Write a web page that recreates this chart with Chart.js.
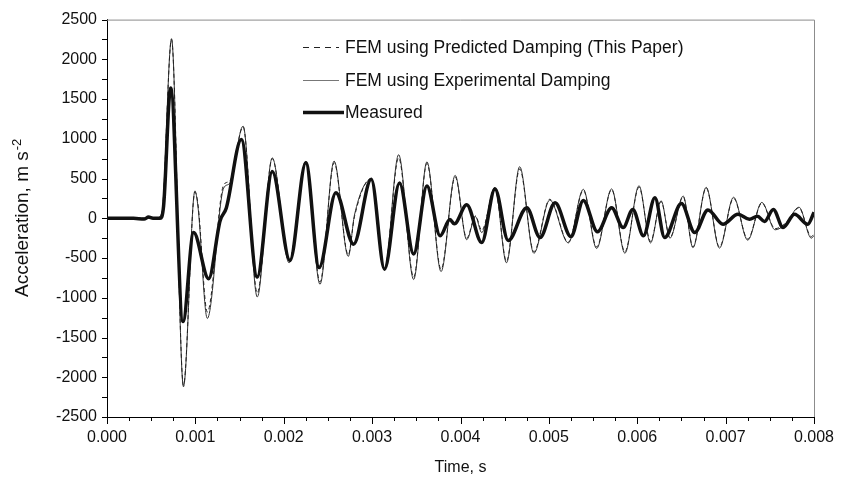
<!DOCTYPE html>
<html>
<head>
<meta charset="utf-8">
<script src="https://cdn.jsdelivr.net/npm/chart.js@4.4.0/dist/chart.umd.min.js"></script>
<style>
  html, body { margin: 0; padding: 0; background: #fff; }
  #wrap { width: 854px; height: 482px; }
</style>
</head>
<body>
<div id="wrap"><canvas id="accChart"></canvas></div>
<script>
// FEM time base, s
const timeFem = [0, 0.0003, 0.00055, 0.00062, 0.00073, 0.000865, 0.000995, 0.00103, 0.001135, 0.00132,
  0.00139, 0.00154, 0.0017, 0.00187, 0.00206, 0.00225, 0.00241, 0.00257, 0.00273, 0.0028,
  0.00299, 0.00314, 0.0033, 0.00347, 0.00362, 0.00378, 0.00394, 0.00407, 0.00417, 0.00424,
  0.00439, 0.00452, 0.00467, 0.00483, 0.00501, 0.00522, 0.00539, 0.00554, 0.00571, 0.00586,
  0.00602, 0.00615, 0.00627, 0.00637, 0.00652, 0.00663, 0.00678, 0.00693, 0.00709, 0.00725,
  0.00741, 0.00756, 0.00768, 0.00783, 0.00797, 0.008];

// FEM using predicted damping, m/s^2
const predicted = [0, 0, 0, 60, 2250, -2100, 330, 170, -1180, 420,
  470, 1150, -940, 750, -540, 720, -800, 700, -460, 20,
  500, -640, 760, -740, 690, -640, 520, -250, 30, -150,
  380, -540, 620, -420, 240, -300, 350, -360, 360, -420,
  390, -290, 210, -240, 270, -360, 380, -360, 250, -260,
  190, -130, -60, 130, -230, -200];

// FEM using experimental damping, m/s^2
const experimental = [0, 0, 0, 60, 2260, -2120, 345, 140, -1260, 380,
  440, 1160, -990, 760, -560, 715, -830, 720, -480, 40,
  490, -650, 800, -770, 710, -670, 540, -270, 20, -180,
  390, -560, 650, -440, 230, -310, 365, -380, 370, -440,
  410, -310, 220, -250, 280, -370, 390, -375, 265, -275,
  200, -145, -70, 140, -250, -220];

// measured time base, s
const timeMeasured = [0, 0.0003, 0.00042, 0.00047, 0.00052, 0.0006, 0.00064, 0.00072, 0.00086, 0.00098,
  0.00115, 0.00128, 0.00135, 0.00152, 0.0017, 0.00187, 0.00207, 0.00225, 0.0024, 0.00259,
  0.00279, 0.00299, 0.00314, 0.00331, 0.00347, 0.00362, 0.00377, 0.00388, 0.00393, 0.00407,
  0.00424, 0.00439, 0.00454, 0.00475, 0.0049, 0.00507, 0.00525, 0.00539, 0.00555, 0.00571,
  0.00584, 0.00595, 0.00607, 0.0062, 0.00631, 0.0065, 0.00665, 0.0068, 0.00697, 0.00714,
  0.00727, 0.00736, 0.00744, 0.00754, 0.00765, 0.00778, 0.00793, 0.008];

// measured, m/s^2
const measured = [0, 0, -10, 15, 0, 0, 150, 1640, -1300, -180,
  -760, -30, 130, 990, -740, 590, -530, 700, -620, 320,
  -325, 490, -640, 445, -450, 405, -220, -15, -70, 170,
  -305, 370, -280, 133, -242, 195, -230, 225, -170, 133,
  -117, 112, -221, 258, -242, 185, -180, 105, -75, 50,
  -13, 25, -40, 112, -117, 50, -75, 75];

const xTickValues = [0, 0.001, 0.002, 0.003, 0.004, 0.005, 0.006, 0.007, 0.008];
const xTickLabels = ['0.000', '0.001', '0.002', '0.003', '0.004', '0.005', '0.006', '0.007', '0.008'];
const yTickValues = [-2500, -2000, -1500, -1000, -500, 0, 500, 1000, 1500, 2000, 2500];

const FONT = '"Liberation Sans", Arial, sans-serif';
const toPoints = (t, v) => t.map((x, i) => ({ x: x, y: v[i] }));

// grey frame, minor ticks, y title with superscript and the in-plot legend
const frameAndLegend = {
  id: 'frameAndLegend',
  afterDraw(chart) {
    const { ctx, chartArea: a, scales: { x, y } } = chart;
    ctx.save();
    ctx.lineWidth = 1;
    ctx.strokeStyle = '#8c8c8c';
    ctx.beginPath();
    ctx.moveTo(a.left, a.top + 0.5);
    ctx.lineTo(a.right + 0.5, a.top + 0.5);
    ctx.lineTo(a.right + 0.5, a.bottom);
    ctx.stroke();

    ctx.strokeStyle = '#000';
    ctx.beginPath();
    for (let v = -2500; v <= 2500; v += 250) {
      const py = Math.round(y.getPixelForValue(v)) + 0.5;
      ctx.moveTo(a.left - 5, py);
      ctx.lineTo(a.left, py);
    }
    for (let i = 0; i <= 32; i++) {
      const px = Math.round(x.getPixelForValue(i * 0.00025)) + 0.5;
      ctx.moveTo(px, a.bottom);
      ctx.lineTo(px, a.bottom + (i % 4 === 0 ? 7 : 4));
    }
    ctx.stroke();

    // y axis title: "Acceleration, m s" + superscript "-2"
    ctx.save();
    ctx.translate(23, (a.top + a.bottom) / 2);
    ctx.rotate(-Math.PI / 2);
    ctx.fillStyle = '#111';
    ctx.textBaseline = 'middle';
    const main = 'Acceleration, m s';
    const sup = '-2';
    ctx.font = '19px ' + FONT;
    const wMain = ctx.measureText(main).width;
    ctx.font = '13px ' + FONT;
    const wSup = ctx.measureText(sup).width;
    const x0 = -(wMain + wSup) / 2;
    ctx.font = '19px ' + FONT;
    ctx.fillText(main, x0, 0);
    ctx.font = '13px ' + FONT;
    ctx.fillText(sup, x0 + wMain + 1, -6);
    ctx.restore();

    // legend
    const order = [1, 2, 0];
    ctx.font = '17.5px ' + FONT;
    ctx.textBaseline = 'middle';
    ctx.fillStyle = '#111';
    order.forEach((di, row) => {
      const ds = chart.data.datasets[di];
      const ly = Math.round(47 + row * 32.5) + 0.5;
      ctx.beginPath();
      ctx.strokeStyle = di === 2 ? '#777' : ds.borderColor;
      ctx.lineWidth = ds.borderWidth;
      ctx.setLineDash(di === 1 ? [6, 5] : []);
      ctx.moveTo(303, ly);
      ctx.lineTo(di === 0 ? 344 : 339, ly);
      ctx.stroke();
      ctx.setLineDash([]);
      ctx.fillText(ds.label, 345, ly + 1);
    });
    ctx.restore();
  }
};

new Chart(document.getElementById('accChart'), {
  type: 'line',
  data: {
    datasets: [
      {
        label: 'Measured',
        data: toPoints(timeMeasured, measured),
        borderColor: '#111',
        borderWidth: 3.5,
        order: 0
      },
      {
        label: 'FEM using Predicted Damping (This Paper)',
        data: toPoints(timeFem, predicted),
        borderColor: '#222',
        borderWidth: 1,
        borderDash: [4, 3],
        order: 1
      },
      {
        label: 'FEM using Experimental Damping',
        data: toPoints(timeFem, experimental),
        borderColor: '#333',
        borderWidth: 1,
        order: 2
      }
    ]
  },
  options: {
    responsive: true,
    maintainAspectRatio: false,
    animation: false,
    elements: { point: { radius: 0 }, line: { cubicInterpolationMode: 'monotone' } },
    layout: { padding: { top: 17, right: 40, left: 0, bottom: 0 } },
    plugins: { legend: { display: false }, tooltip: { enabled: false } },
    scales: {
      x: {
        type: 'linear',
        min: 0,
        max: 0.008,
        afterBuildTicks: s => { s.ticks = xTickValues.map(v => ({ value: v })); },
        afterFit: s => { s.height = 65; },
        ticks: {
          padding: 11,
          color: '#111',
          font: { family: FONT, size: 16 },
          callback: (v, i) => xTickLabels[i]
        },
        grid: { display: true, drawOnChartArea: false, drawTicks: false },
        border: { display: true, color: '#000', width: 1 },
        title: {
          display: true,
          text: 'Time, s',
          color: '#111',
          font: { family: FONT, size: 16 },
          padding: { top: 0, bottom: 5 }
        }
      },
      y: {
        min: -2500,
        max: 2500,
        afterBuildTicks: s => { s.ticks = yTickValues.map(v => ({ value: v })); },
        afterFit: s => { s.width = 107; },
        ticks: {
          padding: 10,
          color: '#111',
          font: { family: FONT, size: 16 },
          callback: v => String(v)
        },
        grid: { display: true, drawOnChartArea: false, drawTicks: false },
        border: { display: true, color: '#000', width: 1 },
        title: { display: false }
      }
    }
  },
  plugins: [frameAndLegend]
});
</script>
</body>
</html>
